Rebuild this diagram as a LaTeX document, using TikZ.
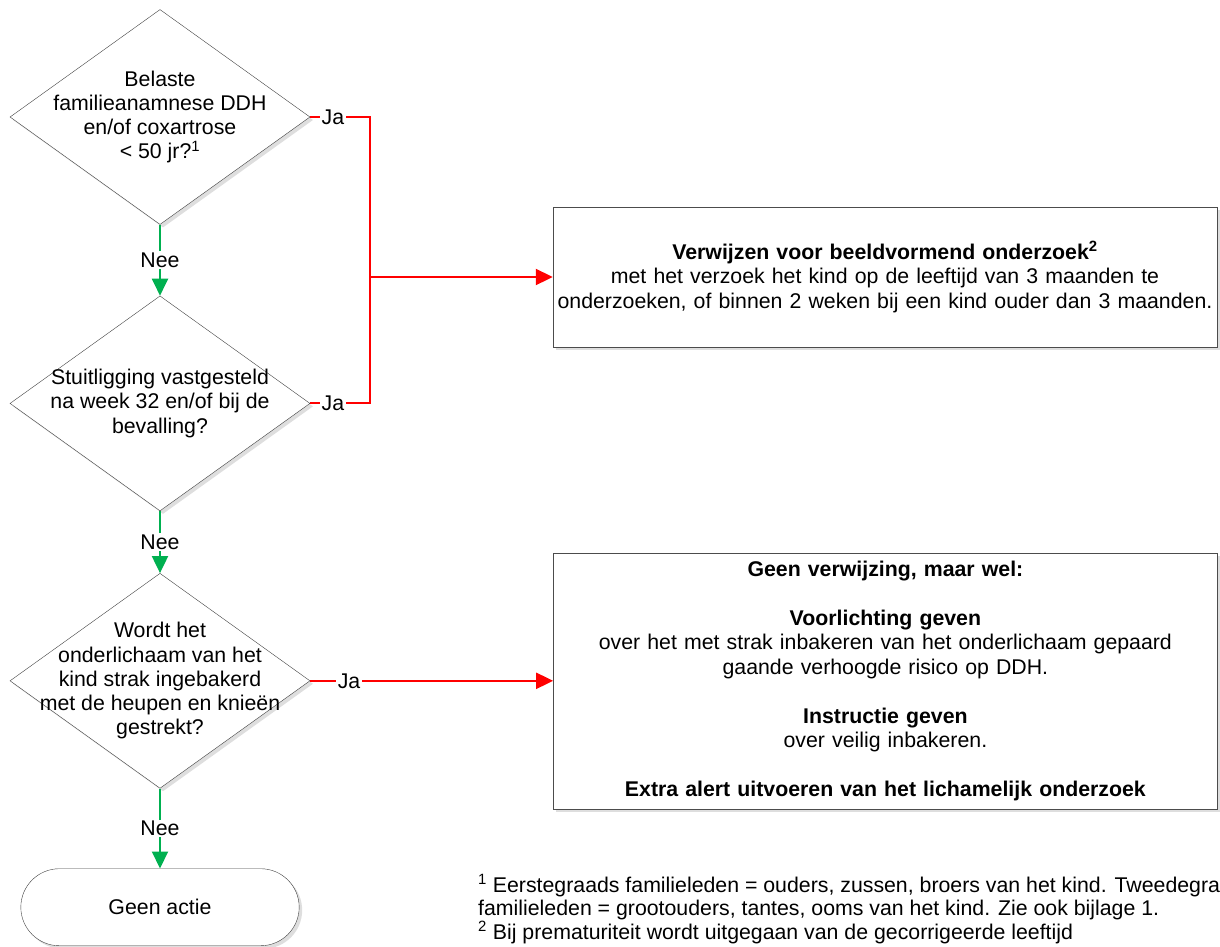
\documentclass[tikz,border=0pt]{standalone}
\usepackage{fontspec}
\setmainfont{Liberation Sans}
\usetikzlibrary{shapes.geometric, shapes.misc, arrows.meta, positioning, shadows}
\definecolor{neegreen}{RGB}{0,176,80}

\begin{document}
\begin{tikzpicture}[x=1pt, y=-1pt, node distance=60pt, >={Triangle[length=17pt, width=16pt]},
		softshadow/.style={drop shadow={shadow xshift=3pt, shadow yshift=-3pt, fill=black!13, opacity=1}},
		decision/.style={diamond, draw=black!75, fill=white, minimum width=300pt, minimum height=215pt, inner sep=0pt, softshadow},
		qtext/.style={align=center, font=\fontsize{21.3}{24.3}\selectfont},
		block/.style={rectangle, draw=black!70, fill=white, minimum width=664pt, text width=664pt, inner xsep=0pt, align=center, font=\fontsize{21.3}{24.5}\selectfont, softshadow},
		endpoint/.style={rounded rectangle, draw=black!75, fill=white, minimum width=285pt, minimum height=77pt, font=\fontsize{21.3}{24}\selectfont, softshadow},
		jaline/.style={draw, red, line width=2pt},
		neeline/.style={draw, neegreen, line width=2pt},
		answer/.style={fill=white, text=black, inner sep=1.5pt, font=\fontsize{21.3}{24}\selectfont}]

		\useasboundingbox (0,0) rectangle (1220,946);
		\clip (0,0) rectangle (1220,946);

		\node [decision, label={[qtext]center:{Belaste\\familieanamnese DDH\\en/of coxartrose\\< 50 jr?\textsuperscript{1}}}] (famil) at (160,117) {};
		\node [decision, below=71pt of famil, label={[qtext]center:{Stuitligging vastgesteld\\na week 32 en/of bij de\\bevalling?}}] (stuit) {};
		\node [decision, below=62pt of stuit, label={[qtext]center:{Wordt het\\onderlichaam van het\\kind strak ingebakerd\\met de heupen en knieën\\gestrekt?}}] (bakeren) {};
		\node [endpoint, below=80pt of bakeren] (geen) {Geen actie};

		\node [block, minimum height=140pt] (verwijs) at (885,277) {\textbf{Verwijzen voor beeldvormend onderzoek\textsuperscript{2}}\\met het verzoek het kind op de leeftijd van 3 maanden te\\onderzoeken, of binnen 2 weken bij een kind ouder dan 3 maanden.};
		\node [block, minimum height=256pt, right=243pt of bakeren] (voorlicht) {\textbf{Geen verwijzing, maar wel:}\\[24.5pt]
			\textbf{Voorlichting geven}\\over het met strak inbakeren van het onderlichaam gepaard\\gaande verhoogde risico op DDH.\\[24.5pt]
			\textbf{Instructie geven}\\over veilig inbakeren.\\[24.5pt]
			\textbf{Extra alert uitvoeren van het lichamelijk onderzoek}};

		\node [anchor=north west, align=left, inner sep=0pt, font=\fontsize{21.3}{23.5}\selectfont] (noten) at (478,874) {\textsuperscript{1} Eerstegraads familieleden = ouders, zussen, broers van het kind. Tweedegraads\\familieleden = grootouders, tantes, ooms van het kind. Zie ook bijlage 1.\\\textsuperscript{2} Bij prematuriteit wordt uitgegaan van de gecorrigeerde leeftijd};

		% Verbindingen
		\coordinate (split) at (370,277);
		\path [jaline] (famil.east) -- node [answer, pos=0.38] {Ja} (famil.east -| split) -- (stuit.east -| split) -- node [answer, pos=0.62] {Ja} (stuit.east);
		\path [jaline, ->] (split) -- (verwijs.west);
		\path [jaline, ->] (bakeren.east) -- node [answer, pos=0.16] {Ja} (voorlicht.west);
		\path [neeline, ->] (famil.south) -- node [answer] {Nee} (stuit.north);
		\path [neeline, ->] (stuit.south) -- node [answer] {Nee} (bakeren.north);
		\path [neeline, ->] (bakeren.south) -- node [answer] {Nee} (geen.north);

	\end{tikzpicture}
\end{document}
